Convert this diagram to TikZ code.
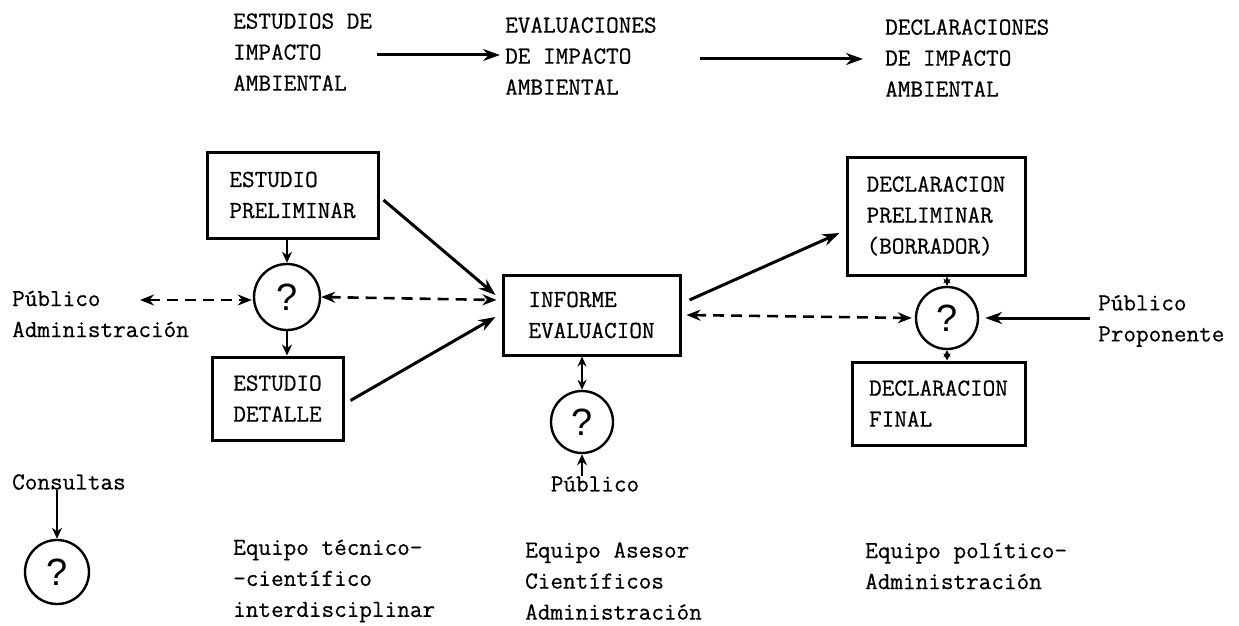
\documentclass[tikz,border=0pt]{standalone}
\usepackage{fontspec}
\newfontfamily\qfont{Liberation Sans}
\newfontfamily\tw[FakeBold=0.6]{Latin Modern Mono}
\usetikzlibrary{arrows.meta,calc}
\begin{document}
\begin{tikzpicture}[x=1pt,y=-1pt,
  txt/.style={font=\tw\fontsize{24.5}{31}\selectfont,align=left,inner sep=0pt,anchor=west},
  box/.style={draw,line width=3pt,font=\tw\fontsize{24.5}{31}\selectfont,align=left,inner sep=0pt},
  qc/.style={draw,circle,line width=2.4pt,inner sep=0pt,font=\qfont\fontsize{38}{38}\selectfont},
  arr/.style={line width=3pt,-{Stealth[length=17pt,width=12pt]}},
  darr/.style={line width=2.6pt,dash pattern=on 11pt off 7pt,{Stealth[length=14pt,width=11pt]}-{Stealth[length=14pt,width=11pt]}},
  sarr/.style={line width=2pt,-{Stealth[length=11pt,width=10pt]}},
  tarr/.style={line width=1.6pt,{Stealth[length=7pt,width=7pt]}-{Stealth[length=7pt,width=7pt]}}]
\useasboundingbox (0,0) rectangle (1239,626);
% top row
\node[txt] (t1) at (233,52) {ESTUDIOS DE\\IMPACTO\\AMBIENTAL};
\node[txt] (t2) at (505,56) {EVALUACIONES\\DE IMPACTO\\AMBIENTAL};
\node[txt] (t3) at (885,58) {DECLARACIONES\\DE IMPACTO\\AMBIENTAL};
\coordinate (a1s) at (377,55);
\coordinate (a2s) at (700,59);
\draw[arr,shorten >=5pt] (a1s) -- (a1s -| t2.west);
\draw[arr,shorten >=22pt] (a2s) -- (a2s -| t3.west);
% boxes
\node[box,minimum width=171pt,minimum height=86pt] (b1) at (292.5,195) {ESTUDIO\\PRELIMINAR};
\node[box,minimum width=131pt,minimum height=83pt] (b2) at (277.5,398.5) {ESTUDIO\\DETALLE};
\node[box,minimum width=177pt,minimum height=80pt] (inf) at (591.5,315) {INFORME\\EVALUACION};
\node[box,minimum width=178pt,minimum height=118pt] (dp) at (936,216) {DECLARACION\\PRELIMINAR\\(BORRADOR)};
\node[box,minimum width=173pt,minimum height=83pt] (df) at (938.5,403.5) {DECLARACION\\FINAL};
% circles
\node[qc,minimum size=66pt] (c1) at (287,297) {?};
\node[qc,minimum size=62pt] (c2) at (582,422) {?};
\node[qc,minimum size=62pt] (c3) at (947,318) {?};
\node[qc,minimum size=64pt] (c4) at (57,572) {?};
% labels
\node[txt] (pa) at (12,314) {Público\\Administración};
\node[txt] (pp) at (1098,321) {Público\\Proponente};
\node[txt,anchor=north] (pb) at (595,476) {Público};
\node[txt] (cons) at (12,482) {Consultas};
\node[txt] (e1) at (233,581) {Equipo técnico-\\-científico\\interdisciplinar};
\node[txt] (e2) at (525,581) {Equipo Asesor\\Científicos\\Administración};
\node[txt] (e3) at (865,566) {Equipo político-\\Administración};
% connectors
\coordinate (pal) at (140,300);
\draw[darr,shorten >=1pt] (pal) -- (pal -| c1.west);
\draw[sarr] (b1.south -| c1) -- (c1.north);
\draw[sarr] (c1.south) -- (b2.north -| c1);
\draw[darr] (c1.east) -- ($(c1.east -| inf.west)+(-5,3)$);
\draw[arr] ($(b1.east)+(4,5)$) -- ($(inf.west)+(-6,-20)$);
\draw[arr] ($(b2.east)+(6,2)$) -- ($(inf.west)+(-6,2)$);
\draw[darr] ($(inf.east)+(5,0)$) -- ($(c3.west)+(-3,0)$);
\draw[arr] ($(inf.east)+(8,-15)$) -- ($(dp.west)+(-6,17)$);
\draw[tarr] (dp.south -| c3) -- (c3.north);
\draw[tarr] (c3.south) -- (df.north -| c3);
\draw[arr] ($(pp.west)+(-8,-3)$) -- ($(c3.east)+(6,0)$);
\draw[line width=2.4pt,{Stealth[length=10pt,width=9pt]}-{Stealth[length=10pt,width=9pt]}] (inf.south -| c2) -- (c2.north);
\draw[sarr] (pb.north -| c2) -- (c2.south);
\draw[sarr] (cons.south -| c4) -- (c4.north);
\end{tikzpicture}
\end{document}
